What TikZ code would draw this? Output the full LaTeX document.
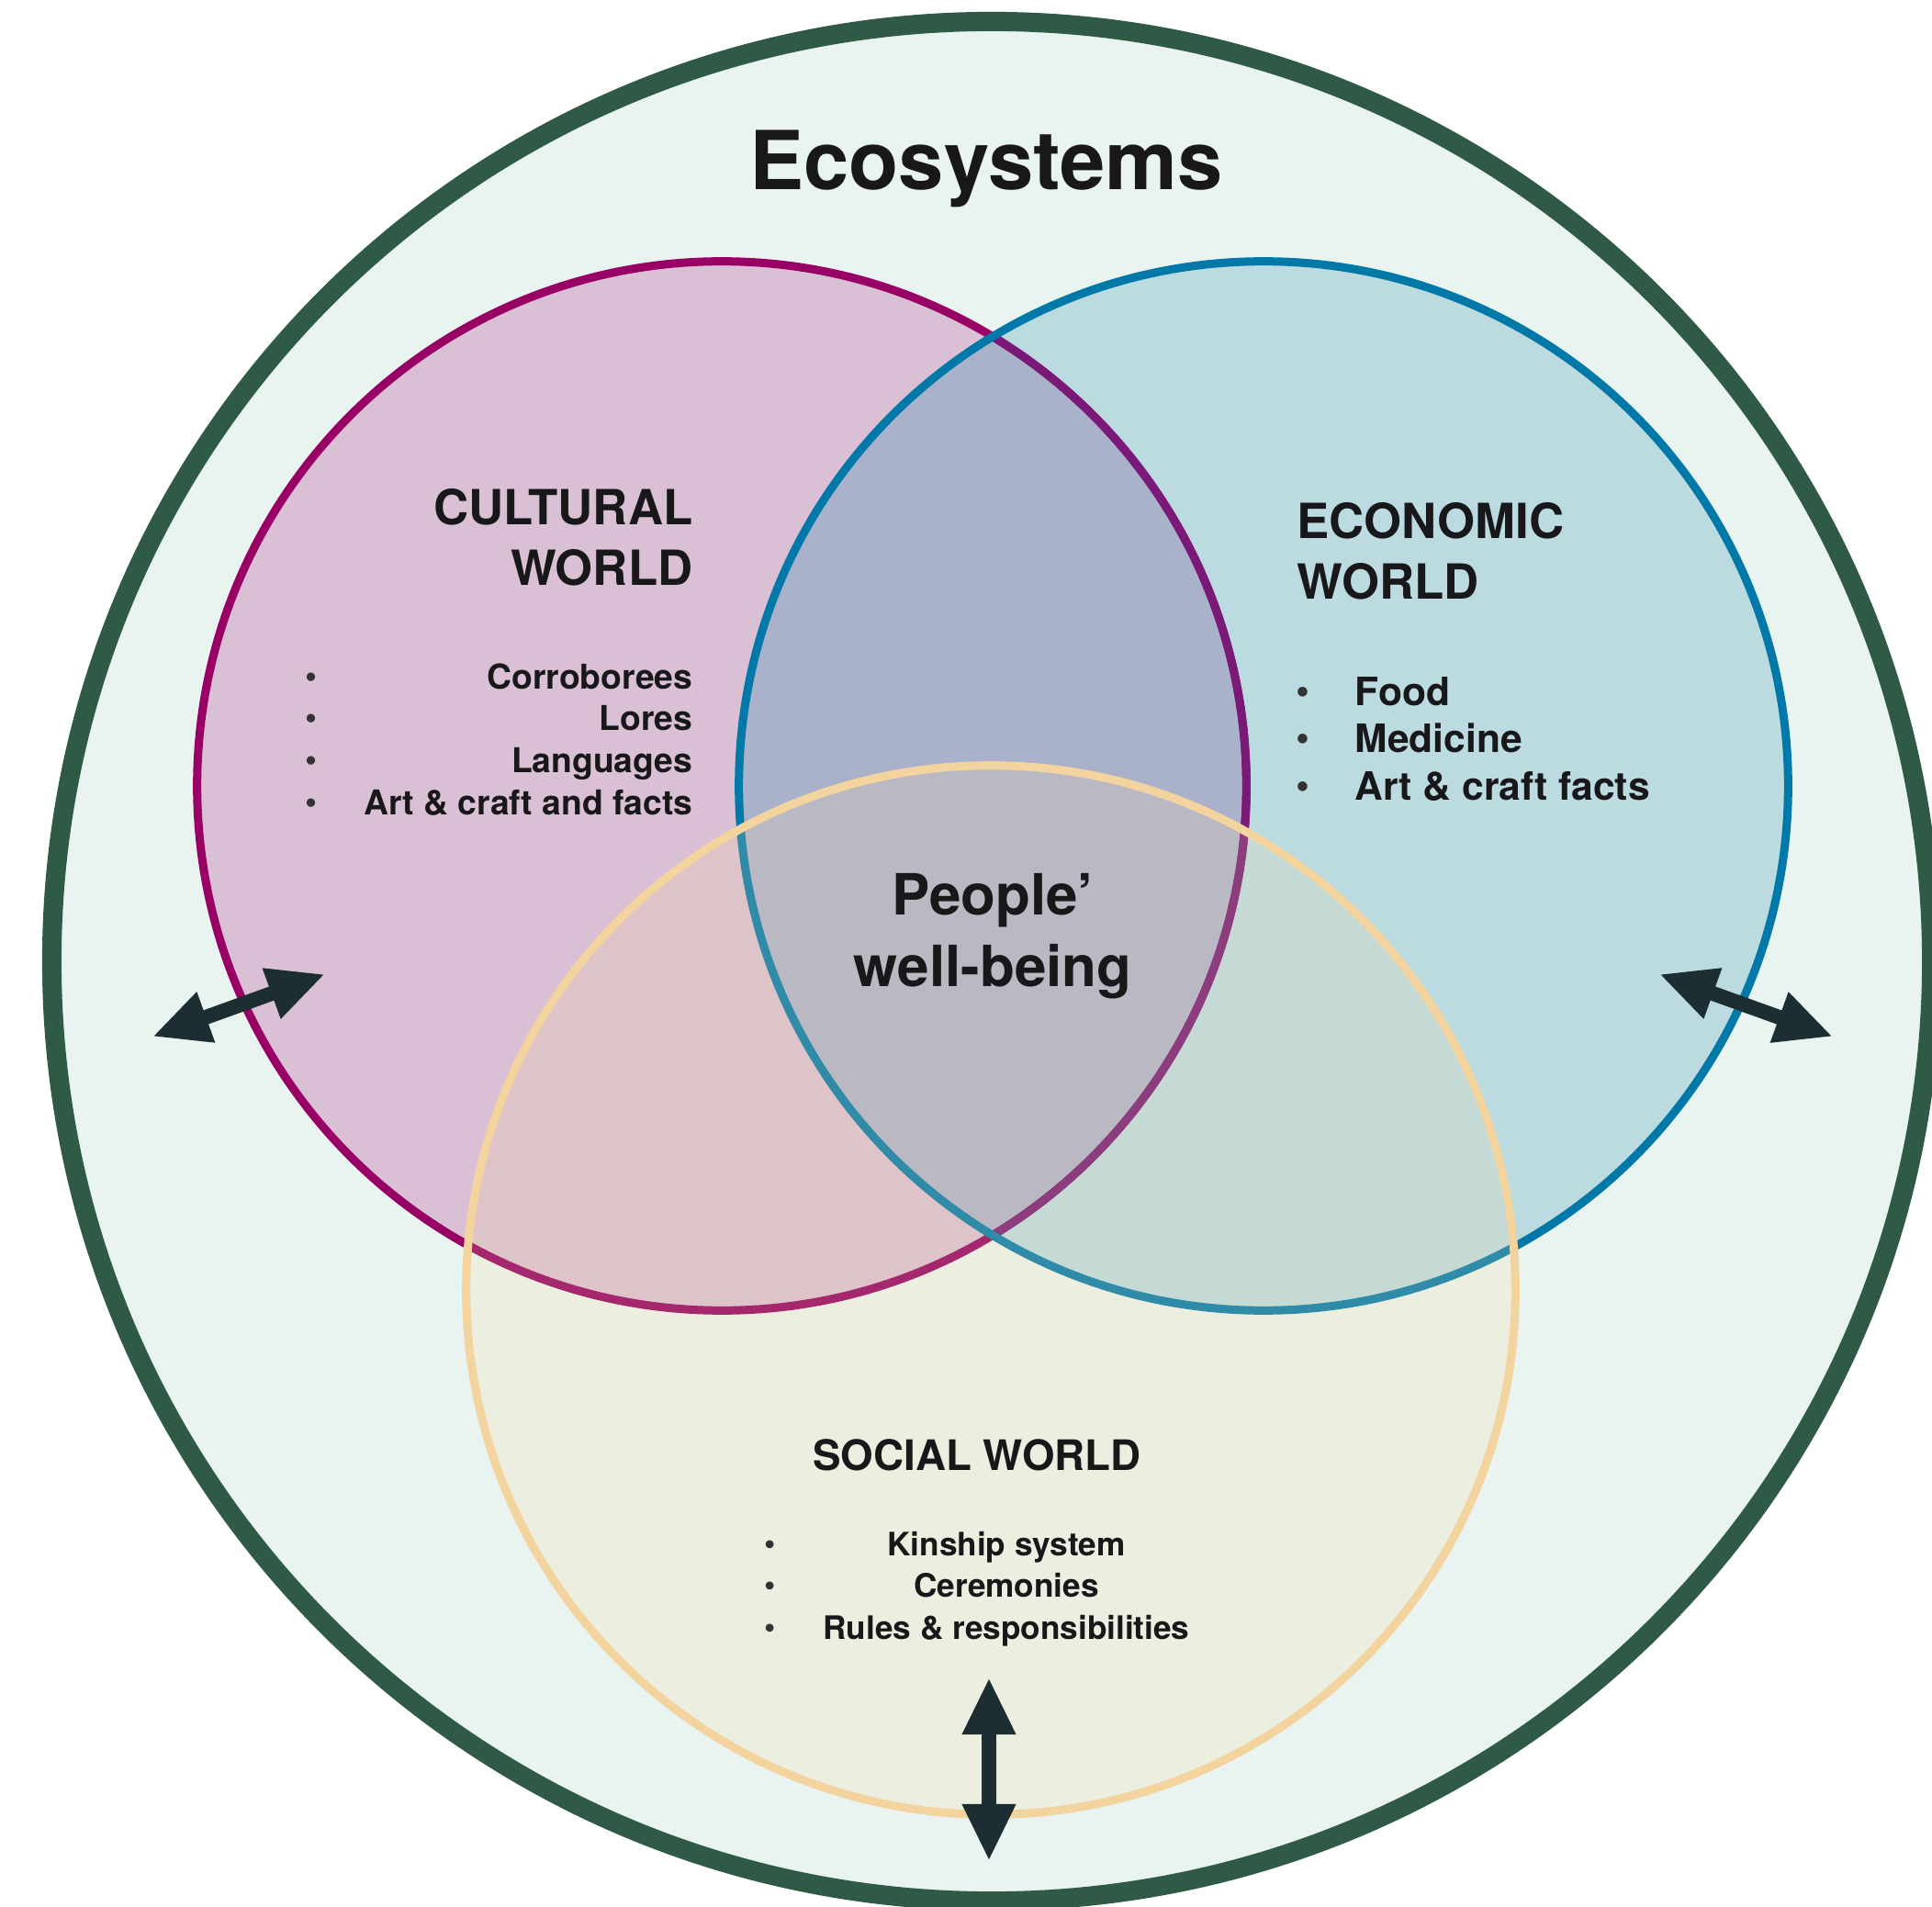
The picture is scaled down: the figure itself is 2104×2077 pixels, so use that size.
\documentclass[tikz,border=0pt]{standalone}
\usepackage{fontspec}
\setmainfont{TeX Gyre Heros}
\usetikzlibrary{arrows.meta}
\definecolor{bgc}{HTML}{E9F3F0}
\definecolor{outerc}{HTML}{2F5A46}
\definecolor{cfill}{HTML}{D9C0D4}
\definecolor{cline}{HTML}{990066}
\definecolor{efill}{HTML}{BBDBE0}
\definecolor{eline}{HTML}{0079A8}
\definecolor{cefill}{HTML}{AAB1CA}
\definecolor{sfill}{HTML}{ECEEE0}
\definecolor{csfill}{HTML}{DEC3C9}
\definecolor{esfill}{HTML}{C6DAD5}
\definecolor{cesfill}{HTML}{BAB8C3}
\definecolor{sline}{HTML}{F3D39E}
\definecolor{clineE}{HTML}{7A1A78}
\definecolor{clineS}{HTML}{A5286F}
\definecolor{clineES}{HTML}{8C3D7E}
\definecolor{elineS}{HTML}{2F8BA8}
\definecolor{txt}{HTML}{18181A}
\definecolor{arrowc}{HTML}{1C2E31}
\definecolor{bulc}{HTML}{333333}
\tikzset{
  ring/.style={line width=0.09cm},
  lbl/.style={inner sep=0pt, text=txt, font=\bfseries},
  titlefont/.style={lbl, font=\bfseries\fontsize{25.2pt}{30pt}\selectfont},
  headfont/.style={lbl, font=\bfseries\fontsize{15pt}{18pt}\selectfont},
  socheadfont/.style={lbl, font=\bfseries\fontsize{13pt}{16pt}\selectfont},
  citem/.style={lbl, font=\bfseries\fontsize{10.6pt}{13pt}\selectfont},
  eitem/.style={lbl, font=\bfseries\fontsize{12.1pt}{14pt}\selectfont},
  sitem/.style={lbl, font=\bfseries\fontsize{10pt}{12pt}\selectfont},
  centerfont/.style={lbl, font=\bfseries\fontsize{17.6pt}{21pt}\selectfont},
  bul/.style={inner sep=0pt, text=bulc, anchor=base},
  dblarrow/.style={arrowc, line width=0.16cm,
    {Triangle[length=0.62cm,width=0.54cm]}-{Triangle[length=0.62cm,width=0.54cm]}}
}
\begin{document}
\begin{tikzpicture}[x=0.01cm,y=-0.01cm]
\useasboundingbox (0,0) rectangle (2104,2077);
\fill[white] (0,0) rectangle (2104,2077);

% centres
\coordinate (O) at (1080,1047);
\coordinate (Cc) at (786,856);
\coordinate (Ec) at (1376,856);
\coordinate (Sc) at (1079,1405);
\def\rr{5.71cm}

% outer ecosystem circle
\draw[fill=bgc, draw=outerc, line width=0.21cm] (O) circle[radius=10.23cm];

% cultural and economic fills
\fill[cfill] (Cc) circle[radius=\rr];
\fill[efill] (Ec) circle[radius=\rr];
\begin{scope}
  \clip (Cc) circle[radius=\rr];
  \fill[cefill] (Ec) circle[radius=\rr];
\end{scope}
% strokes
\draw[ring, cline] (Cc) circle[radius=\rr];
\begin{scope}
  \clip (Ec) circle[radius=\rr];
  \draw[ring, clineE] (Cc) circle[radius=\rr];
\end{scope}
\draw[ring, eline] (Ec) circle[radius=\rr];

% social circle with overlaps
\begin{scope}
  \clip (Sc) circle[radius=\rr];
  \fill[sfill] (Sc) circle[radius=\rr];
  \begin{scope}
    \clip (Cc) circle[radius=\rr];
    \fill[csfill] (Sc) circle[radius=\rr];
  \end{scope}
  \begin{scope}
    \clip (Ec) circle[radius=\rr];
    \fill[esfill] (Sc) circle[radius=\rr];
    \clip (Cc) circle[radius=\rr];
    \fill[cesfill] (Sc) circle[radius=\rr];
  \end{scope}
  \draw[ring, clineS] (Cc) circle[radius=\rr];
  \begin{scope}
    \clip (Ec) circle[radius=\rr];
    \draw[ring, clineES] (Cc) circle[radius=\rr];
  \end{scope}
  \draw[ring, elineS] (Ec) circle[radius=\rr];
\end{scope}
\draw[ring, sline] (Sc) circle[radius=\rr];

% title
\node[titlefont, anchor=base] (title) at (1074,207) {Ecosystems};

% cultural
\node[headfont, anchor=base east] (cult1) at (755,572) {CULTURAL};
\node[headfont, anchor=base east] (cult2) at (755,638) {WORLD};
\node[bul, font=\fontsize{10.6pt}{13pt}\selectfont] (cb1) at (339,751) {\textbullet};
\node[bul, font=\fontsize{10.6pt}{13pt}\selectfont] (cb2) at (339,796) {\textbullet};
\node[bul, font=\fontsize{10.6pt}{13pt}\selectfont] (cb3) at (339,842) {\textbullet};
\node[bul, font=\fontsize{10.6pt}{13pt}\selectfont] (cb4) at (339,887) {\textbullet};
\node[citem, anchor=base east] (ci1) at (755,751) {Corroborees};
\node[citem, anchor=base east] (ci2) at (755,796) {Lores};
\node[citem, anchor=base east] (ci3) at (755,842) {Languages};
\node[citem, anchor=base east] (ci4) at (755,887) {Art \& craft and facts};

% economic
\node[headfont, anchor=base west] (econ1) at (1412,587) {ECONOMIC};
\node[headfont, anchor=base west] (econ2) at (1412,653) {WORLD};
\node[bul, font=\fontsize{12.1pt}{14pt}\selectfont] (eb1) at (1419,769) {\textbullet};
\node[bul, font=\fontsize{12.1pt}{14pt}\selectfont] (eb2) at (1419,820) {\textbullet};
\node[bul, font=\fontsize{12.1pt}{14pt}\selectfont] (eb3) at (1419,871) {\textbullet};
\node[eitem, anchor=base west] (ei1) at (1475,769) {Food};
\node[eitem, anchor=base west] (ei2) at (1475,820) {Medicine};
\node[eitem, anchor=base west] (ei3) at (1475,871) {Art \& craft facts};

% social
\node[socheadfont, anchor=base] (soc) at (1064,1601) {SOCIAL WORLD};
\node[bul, font=\fontsize{10pt}{12pt}\selectfont] (sb1) at (839,1694) {\textbullet};
\node[bul, font=\fontsize{10pt}{12pt}\selectfont] (sb2) at (839,1739) {\textbullet};
\node[bul, font=\fontsize{10pt}{12pt}\selectfont] (sb3) at (839,1785) {\textbullet};
\node[sitem, anchor=base] (si1) at (1096,1694) {Kinship system};
\node[sitem, anchor=base] (si2) at (1096,1739) {Ceremonies};
\node[sitem, anchor=base] (si3) at (1096,1785) {Rules \& responsibilities};

% centre
\node[centerfont, anchor=base] (wb1) at (1081,996) {People’};
\node[centerfont, anchor=base] (wb2) at (1081,1074) {well-being};

% arrows
\coordinate (la1) at (166,1129);
\coordinate (la2) at (354,1061);
\coordinate (ra1) at (1807,1061);
\coordinate (ra2) at (1996,1129);
\coordinate (ba1) at (1077,1827);
\coordinate (ba2) at (1077,2027);
\draw[dblarrow] (la1) -- (la2);
\draw[dblarrow] (ra1) -- (ra2);
\draw[dblarrow] (ba1) -- (ba2);
\end{tikzpicture}
\end{document}
